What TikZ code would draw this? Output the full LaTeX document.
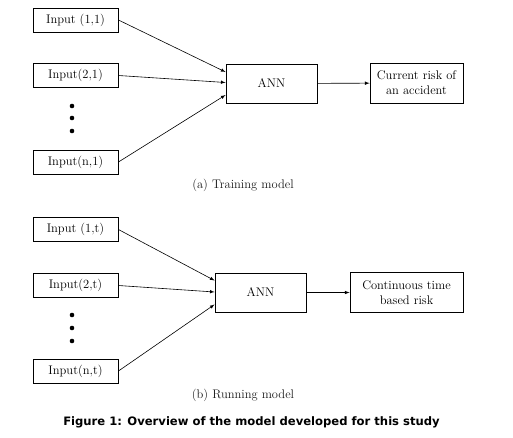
\documentclass[tikz,border=0pt]{standalone}
\usepackage{fontspec}
\newfontfamily\figcapfont{DejaVu Sans}
\usepackage{tikz}
\usetikzlibrary{positioning,calc}

\begin{document}
\begin{tikzpicture}[
  x=1pt, y=-1pt,
  every node/.style={align=center,font=\fontsize{12.5}{15}\selectfont},
  inbox/.style={draw,line width=0.9pt,minimum width=85pt,minimum height=24pt,inner sep=0pt},
  annbox/.style={draw,line width=0.9pt,minimum width=91pt,minimum height=39pt,inner sep=0pt},
  outbox/.style={draw,line width=0.9pt,minimum height=40pt,inner sep=0pt},
  link/.style={draw,line width=0.6pt,-latex},
  subcap/.style={text=black!90}
]
\useasboundingbox (0,0) rectangle (513,437);

% (a) training
\node[inbox] (in11) at (75.5,20) {Input (1,1)};
\node[inbox] (in21) at (75.5,75.5) {Input(2,1)};
\node[inbox] (inn1) at (75.5,162) {Input(n,1)};
\node[annbox] (ann1) at (271.5,83.5) {ANN};
\node[outbox,minimum width=93pt] (out1) at (416.5,83) {Current risk of\\an accident};
\node[subcap] (capa) at (243,185) {(a) Training model};
\foreach \y in {106,118,131} \fill (72,\y) circle (2.3);
\draw[link] (in11.east) -- ($(ann1.west)+(0,-11.5)$);
\draw[link] (in21.east) -- ($(ann1.west)+(0,-1)$);
\draw[link] (inn1.east) -- ($(ann1.west)+(0,11.5)$);
\draw[link] (ann1) -- (out1);

% (b) running
\node[inbox] (in1t) at (75.5,229.5) {Input (1,t)};
\node[inbox] (in2t) at (75.5,285.5) {Input(2,t)};
\node[inbox] (innt) at (75.5,371) {Input(n,t)};
\node[annbox] (ann2) at (260.5,292.5) {ANN};
\node[outbox,minimum width=113pt] (out2) at (406.5,292.5) {Continuous time\\based risk};
\node[subcap] (capb) at (243,395) {(b) Running model};
\foreach \y in {315,328,341} \fill (72,\y) circle (2.3);
\draw[link] (in1t.east) -- ($(ann2.west)+(0,-12)$);
\draw[link] (in2t.east) -- ($(ann2.west)+(0,-0.5)$);
\draw[link] (innt.east) -- ($(ann2.west)+(0,12)$);
\draw[link] (ann2) -- (out2);

\node[font=\figcapfont\bfseries\fontsize{11.6}{14}\selectfont] (figcap) at (251.5,422)
  {Figure 1: Overview of the model developed for this study};
\end{tikzpicture}
\end{document}
